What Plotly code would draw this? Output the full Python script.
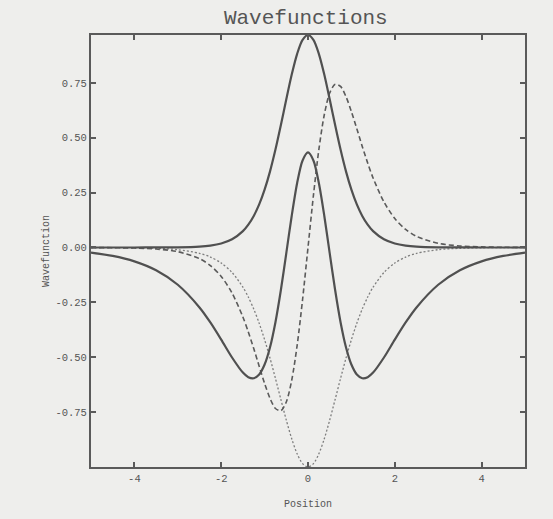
import plotly.graph_objects as go

# Position grid (finer near the centre)
position = [-5.0, -4.5, -4.0, -3.5, -3.0, -2.5, -2.25, -2.0, -1.75, -1.5, -1.375, -1.25,
            -1.125, -1.0, -0.875, -0.75, -0.625, -0.5, -0.375, -0.25, -0.125, 0.0,
            0.125, 0.25, 0.375, 0.5, 0.625, 0.75, 0.875, 1.0, 1.125, 1.25, 1.375,
            1.5, 1.75, 2.0, 2.25, 2.5, 3.0, 3.5, 4.0, 4.5, 5.0]

# Outer solid curve (single peak)
psi_ground = [0.0, 0.0, 0.0, 0.0002, 0.0009, 0.0042, 0.0088, 0.0182, 0.0372, 0.0744, 0.1039,
              0.1437, 0.1962, 0.2635, 0.3469, 0.4460, 0.5577, 0.6751, 0.7877, 0.8822, 0.9456,
              0.968,
              0.9456, 0.8822, 0.7877, 0.6751, 0.5577, 0.4460, 0.3469, 0.2635, 0.1962, 0.1437,
              0.1039, 0.0744, 0.0372, 0.0182, 0.0088, 0.0042, 0.0009, 0.0002, 0.0, 0.0, 0.0]

# Dashed curve (odd)
psi_dashed = [-0.0004, -0.0010, -0.0026, -0.0070, -0.0190, -0.0508, -0.0823, -0.1319, -0.2074,
              -0.3167, -0.3848, -0.4605, -0.5406, -0.6192, -0.6875, -0.7336, -0.7435, -0.7036,
              -0.6047, -0.4457, -0.2370, 0.0,
              0.2370, 0.4457, 0.6047, 0.7036, 0.7435, 0.7336, 0.6875, 0.6192, 0.5406, 0.4605,
              0.3848, 0.3167, 0.2074, 0.1319, 0.0823, 0.0508, 0.0190, 0.0070, 0.0026, 0.0010,
              0.0004]

# Inner solid curve (central peak with two side dips)
psi_second = [-0.0233, -0.0385, -0.0633, -0.1040, -0.1699, -0.2731, -0.3415, -0.4197, -0.5012,
              -0.5700, -0.5907, -0.5957, -0.5786, -0.5332, -0.4544, -0.3402, -0.1938, -0.0260,
              0.1447, 0.2939, 0.3964, 0.433,
              0.3964, 0.2939, 0.1447, -0.0260, -0.1938, -0.3402, -0.4544, -0.5332, -0.5786,
              -0.5957, -0.5907, -0.5700, -0.5012, -0.4197, -0.3415, -0.2731, -0.1699, -0.1040,
              -0.0633, -0.0385, -0.0233]

# Dotted curve (deep well shape)
psi_dotted = [-0.0002, -0.0005, -0.0013, -0.0036, -0.0099, -0.0266, -0.0435, -0.0707, -0.1138,
              -0.1807, -0.2259, -0.2804, -0.3450, -0.4200, -0.5045, -0.5966, -0.6924, -0.7864,
              -0.8716, -0.9400, -0.9845, -1.0,
              -0.9845, -0.9400, -0.8716, -0.7864, -0.6924, -0.5966, -0.5045, -0.4200, -0.3450,
              -0.2804, -0.2259, -0.1807, -0.1138, -0.0707, -0.0435, -0.0266, -0.0099, -0.0036,
              -0.0013, -0.0005, -0.0002]

x_ticks = [-4, -2, 0, 2, 4]
y_ticks = [-0.75, -0.5, -0.25, 0.0, 0.25, 0.5, 0.75]
y_labels = ["-0.75", "-0.50", "-0.25", "0.00", "0.25", "0.50", "0.75"]

BG = "#eeeeec"
INK = "#505050"
FONT = "Liberation Mono"

fig = go.Figure()
fig.add_trace(go.Scatter(x=position, y=psi_dotted, mode="lines",
                         line=dict(color="#7e7e7e", width=1.3, dash="2px,2px", shape="spline", smoothing=0.8)))
fig.add_trace(go.Scatter(x=position, y=psi_dashed, mode="lines",
                         line=dict(color="#5a5a5a", width=1.6, dash="5px,3px", shape="spline", smoothing=0.8)))
fig.add_trace(go.Scatter(x=position, y=psi_second, mode="lines",
                         line=dict(color=INK, width=2.2, shape="spline", smoothing=0.8)))
fig.add_trace(go.Scatter(x=position, y=psi_ground, mode="lines",
                         line=dict(color=INK, width=2.2, shape="spline", smoothing=0.8)))

axis_common = dict(showgrid=False, zeroline=False, showline=True, linecolor="#5a5a5a",
                   linewidth=2, mirror="ticks", ticks="inside", ticklen=5, tickwidth=1.5,
                   tickcolor="#5a5a5a", tickfont=dict(family=FONT, size=10.5, color="#555555"))

fig.update_layout(
    width=553, height=519,
    margin=dict(l=91, r=28, t=35, b=52),
    paper_bgcolor=BG, plot_bgcolor=BG,
    showlegend=False,
    title=dict(text="Wavefunctions", x=0.553, xanchor="center", y=0.967, yanchor="middle",
               yref="container", font=dict(family=FONT, size=21, color="#555555")),
    xaxis=dict(range=[-5, 5], tickvals=x_ticks, ticktext=[str(v) for v in x_ticks],
               title=dict(text="Position", font=dict(family=FONT, size=10, color="#555555"), standoff=16),
               **axis_common),
    yaxis=dict(range=[-1.0, 0.968], tickvals=y_ticks, ticktext=y_labels,
               title=dict(text="Wavefunction", font=dict(family=FONT, size=10, color="#555555"), standoff=4),
               **axis_common),
)

fig.write_html("out.html")
